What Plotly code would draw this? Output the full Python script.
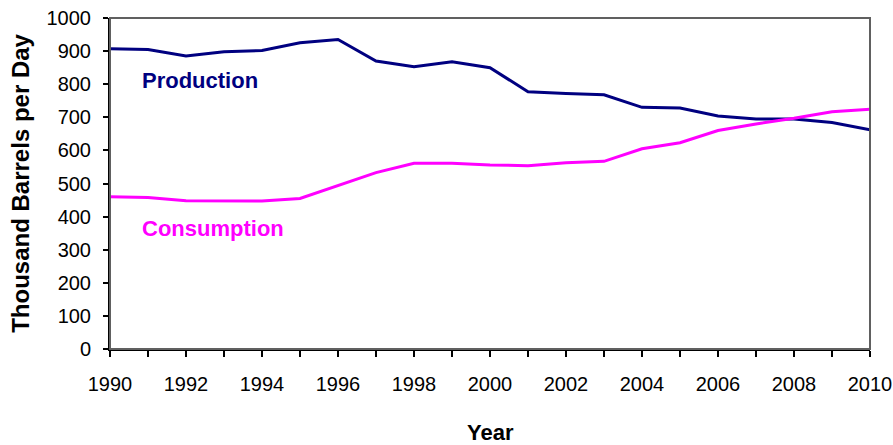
import plotly.graph_objects as go

years = list(range(1990, 2011))
production = [907, 905, 885, 898, 902, 925, 935, 870, 853, 868, 850, 777, 772, 768, 730, 728, 704, 695, 695, 684, 662]
consumption = [460, 458, 448, 447, 447, 455, 495, 533, 561, 561, 556, 554, 563, 567, 605, 623, 660, 680, 697, 717, 724]

x_tick_vals = list(range(1990, 2011, 2))
y_tick_vals = list(range(0, 1001, 100))

NAVY = "#000080"
MAGENTA = "#FF00FF"
FONT = "Liberation Sans, Arial, sans-serif"

fig = go.Figure()
fig.add_trace(go.Scatter(
    x=years, y=production, mode="lines", name="Production",
    line=dict(color=NAVY, width=3), showlegend=False,
))
fig.add_trace(go.Scatter(
    x=years, y=consumption, mode="lines", name="Consumption",
    line=dict(color=MAGENTA, width=3), showlegend=False,
))

# labels inside the plot
fig.add_annotation(x=1990.78, y=810, text="<b>Production</b>", showarrow=False,
                   xanchor="left", font=dict(color=NAVY, size=22, family=FONT))
fig.add_annotation(x=1990.78, y=365, text="<b>Consumption</b>", showarrow=False,
                   xanchor="left", font=dict(color=MAGENTA, size=22, family=FONT))

# axis titles
fig.add_annotation(x=-0.118, y=0.5, xref="paper", yref="paper", text="<b>Thousand Barrels per Day</b>",
                   textangle=-90, showarrow=False, xanchor="center", yanchor="middle",
                   font=dict(size=24, color="black", family=FONT))
fig.add_annotation(x=0.5, y=-0.251, xref="paper", yref="paper", text="<b>Year</b>",
                   xanchor="center", yanchor="middle",
                   showarrow=False, font=dict(size=22, color="black", family=FONT))

# grey frame round the plot area (left/bottom get covered by the black axis lines)
fig.add_shape(type="rect", xref="paper", yref="paper", x0=0, x1=1, y0=0, y1=1,
              line=dict(color="#606060", width=2), layer="above")

fig.update_layout(
    width=893, height=445,
    plot_bgcolor="white", paper_bgcolor="white",
    margin=dict(l=110, r=23, t=18, b=96),
    font=dict(family=FONT, size=20, color="black"),
    xaxis=dict(
        range=[1990, 2010], tickvals=x_tick_vals, ticks="outside", ticklen=6, tickwidth=2,
        tickcolor="black", showline=True, linecolor="black", linewidth=2, showgrid=False,
        zeroline=False, tickfont=dict(size=20), ticklabelstandoff=10, automargin=False,
        minor=dict(dtick=1, tick0=1990, ticks="outside", ticklen=6, tickwidth=2, tickcolor="black", showgrid=False),
    ),
    yaxis=dict(
        range=[0, 1000], tickvals=y_tick_vals, ticks="outside", ticklen=5, tickwidth=2,
        tickcolor="black", showline=True, linecolor="black", linewidth=2, showgrid=False,
        zeroline=False, tickfont=dict(size=20), ticklabelstandoff=8, automargin=False,
    ),
)

fig.write_html("out.html", config={"displayModeBar": False},
               post_script="document.body.style.margin='0';")
